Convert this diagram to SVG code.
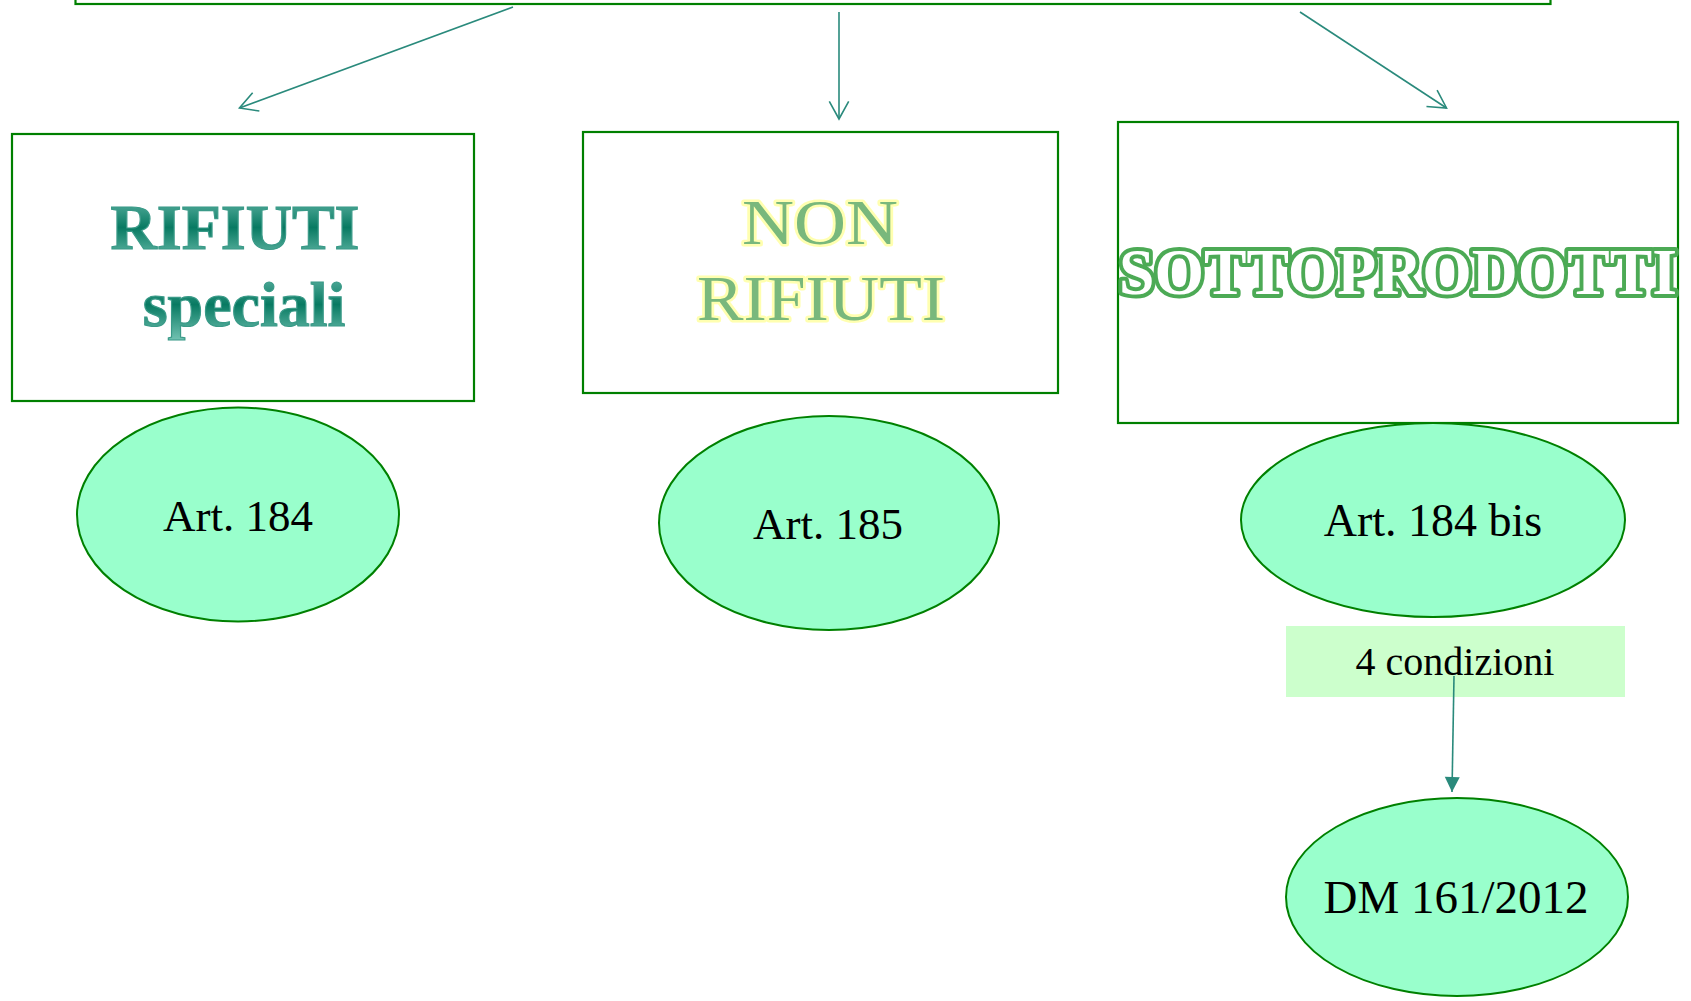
<svg xmlns="http://www.w3.org/2000/svg" width="1691" height="1001" viewBox="0 0 1691 1001">
<style>
.box{fill:#fff;stroke:#008000;stroke-width:2.2}
.ell{fill:#99ffcc;stroke:#008000;stroke-width:2}
.lbl{font-family:"Liberation Serif",serif;fill:#000;text-anchor:middle}
.conn{stroke:#2a8a7c;stroke-width:1.6;fill:none}
.t1{font-family:"Liberation Serif",serif;font-weight:bold;font-size:64px;fill:url(#teal);stroke:#3a9a88;stroke-width:1.2;text-anchor:middle}
.t2{font-family:"Liberation Serif",serif;font-size:64px;fill:#79b87c;stroke:#ffffb0;stroke-width:5;paint-order:stroke;stroke-linejoin:round;text-anchor:middle}
.t3{font-family:"Liberation Serif",serif;font-weight:bold;font-size:65px;fill:#fff;stroke:#4caa55;stroke-width:8;paint-order:stroke;stroke-linejoin:round;text-anchor:middle}
</style>
<defs>
<linearGradient id="teal" x1="0" y1="0" x2="0" y2="1">
<stop offset="0" stop-color="#6cbcae"/>
<stop offset="0.5" stop-color="#087a62"/>
<stop offset="1" stop-color="#72c2b2"/>
</linearGradient>
<marker id="open" markerUnits="userSpaceOnUse" viewBox="-20 -12 22 24" refX="0" refY="0" markerWidth="22" markerHeight="24" orient="auto">
<path d="M-17.6,-9.7 L0,0 L-17.6,9.7" fill="none" stroke="#2a8a7c" stroke-width="1.6"/>
</marker>
<marker id="solid" markerUnits="userSpaceOnUse" viewBox="-16 -8 17 16" refX="0" refY="0" markerWidth="17" markerHeight="16" orient="auto">
<path d="M-15,-7.5 L0,0 L-15,7.5 Z" fill="#2a8a7c"/>
</marker>
</defs>

<g id="top-box">
<rect class="box" x="75.5" y="-60" width="1475" height="64"/>
</g>

<g id="rifiuti-speciali">
<rect class="box" x="12" y="134" width="462" height="267"/>
<text class="t1" x="235" y="249">RIFIUTI</text>
<text class="t1" x="244" y="326">speciali</text>
</g>

<g id="non-rifiuti">
<rect class="box" x="583" y="132" width="475" height="261"/>
<text class="t2" x="820" y="244" textLength="156" lengthAdjust="spacingAndGlyphs">NON</text>
<text class="t2" x="821" y="320" textLength="248" lengthAdjust="spacingAndGlyphs">RIFIUTI</text>
</g>

<g id="sottoprodotti">
<rect class="box" x="1118" y="122" width="560" height="301"/>
<text class="t3" x="1398" y="294" textLength="558" lengthAdjust="spacingAndGlyphs">SOTTOPRODOTTI</text>
</g>

<g id="art184">
<ellipse class="ell" cx="238" cy="514.5" rx="161" ry="107"/>
<text class="lbl" x="238" y="531" font-size="45">Art. 184</text>
</g>

<g id="art185">
<ellipse class="ell" cx="829" cy="523" rx="170" ry="107"/>
<text class="lbl" x="828" y="539" font-size="45">Art. 185</text>
</g>

<g id="art184bis">
<ellipse class="ell" cx="1433" cy="520" rx="192" ry="97"/>
<text class="lbl" x="1433" y="536" font-size="46">Art. 184 bis</text>
</g>

<g id="quattro-condizioni">
<rect x="1286" y="626" width="339" height="71" fill="#ccffcc"/>
<text class="lbl" x="1455" y="675" font-size="40">4 condizioni</text>
</g>

<g id="dm161">
<ellipse class="ell" cx="1457" cy="897" rx="171" ry="99"/>
<text class="lbl" x="1456" y="913" font-size="47">DM 161/2012</text>
</g>

<g id="connectors">
<line class="conn" x1="513" y1="7" x2="239.5" y2="108" marker-end="url(#open)"/>
<line class="conn" x1="839" y1="12" x2="839" y2="119" marker-end="url(#open)"/>
<line class="conn" x1="1300" y1="12" x2="1446.5" y2="108" marker-end="url(#open)"/>
<line class="conn" x1="1454" y1="676" x2="1452" y2="792" marker-end="url(#solid)"/>
</g>
</svg>
